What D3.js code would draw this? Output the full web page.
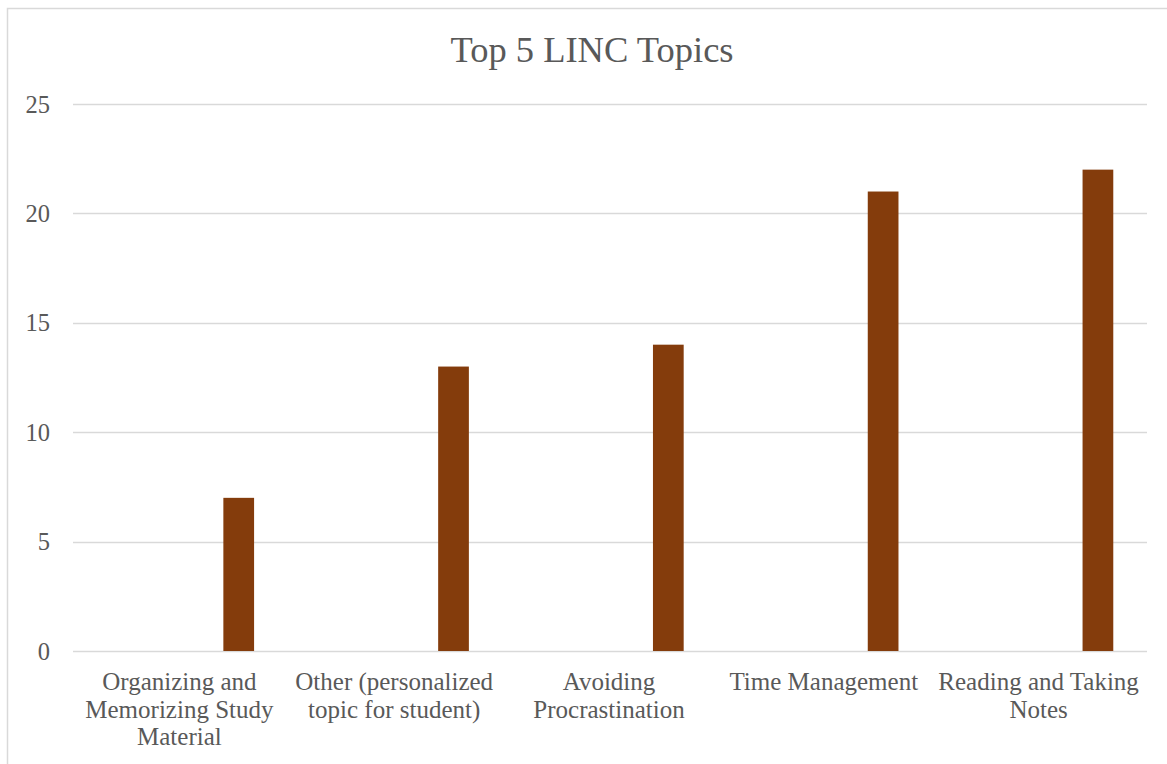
<!DOCTYPE html>
<html>
<head>
<meta charset="utf-8">
<script src="https://cdn.jsdelivr.net/npm/d3@7/dist/d3.min.js"></script>
<style>
  html, body { margin: 0; padding: 0; background: #fff; }
  svg { display: block; }
  text { font-family: "Liberation Serif", "DejaVu Serif", serif; fill: #595959; }
</style>
</head>
<body>
<svg id="chart" width="1167" height="764"></svg>
<script>
// Chart content
const title = "Top 5 LINC Topics";
const categories = [
  ["Organizing and", "Memorizing Study", "Material"],
  ["Other (personalized", "topic for student)"],
  ["Avoiding", "Procrastination"],
  ["Time Management"],
  ["Reading and Taking", "Notes"]
];
const values = [7, 13, 14, 21, 22];
const yTicks = [0, 5, 10, 15, 20, 25];

const svg = d3.select("#chart");
const W = 1167, H = 764;
const plot = { left: 73, right: 1147, top: 104, bottom: 651 };

// Outer chart border (top and left edges visible inside the frame)
svg.append("rect")
  .attr("x", 7.5).attr("y", 8.5)
  .attr("width", W).attr("height", H)
  .attr("fill", "none").attr("stroke", "#d9d9d9").attr("stroke-width", 1.5);

const keys = categories.map((c, i) => i);
const x = d3.scaleBand().domain(keys).range([plot.left, plot.right]).padding(0);
const y = d3.scaleLinear().domain([0, 25]).range([plot.bottom, plot.top]);

// Horizontal gridlines
svg.append("g").selectAll("line")
  .data(yTicks)
  .join("line")
  .attr("x1", plot.left).attr("x2", plot.right)
  .attr("y1", d => Math.round(y(d)) + 0.5).attr("y2", d => Math.round(y(d)) + 0.5)
  .attr("stroke", "#d9d9d9").attr("stroke-width", 1.5);

// Y-axis tick labels
svg.append("g").selectAll("text")
  .data(yTicks)
  .join("text")
  .attr("x", 50).attr("y", d => y(d))
  .attr("dy", "0.35em")
  .attr("text-anchor", "end")
  .attr("font-size", 24.5)
  .text(d => d);

// Bars, sitting toward the right of each category slot
const bw = x.bandwidth();
svg.append("g").selectAll("rect")
  .data(values)
  .join("rect")
  .attr("x", (d, i) => x(i) + bw * 0.70)
  .attr("width", bw * 0.143)
  .attr("y", d => y(d))
  .attr("height", d => y(0) - y(d))
  .attr("fill", "#843C0C");

// Category labels (multi-line)
const labels = svg.append("g").selectAll("text")
  .data(categories)
  .join("text")
  .attr("x", (d, i) => x(i) + bw / 2 - 1)
  .attr("y", 690)
  .attr("text-anchor", "middle")
  .attr("font-size", 25);
labels.selectAll("tspan")
  .data(d => d)
  .join("tspan")
  .attr("x", function () { return d3.select(this.parentNode).attr("x"); })
  .attr("dy", (d, j) => j === 0 ? 0 : 27.5)
  .text(d => d);

// Title
svg.append("text")
  .attr("x", 592).attr("y", 62)
  .attr("text-anchor", "middle")
  .attr("font-size", 36.5)
  .text(title);
</script>
</body>
</html>
